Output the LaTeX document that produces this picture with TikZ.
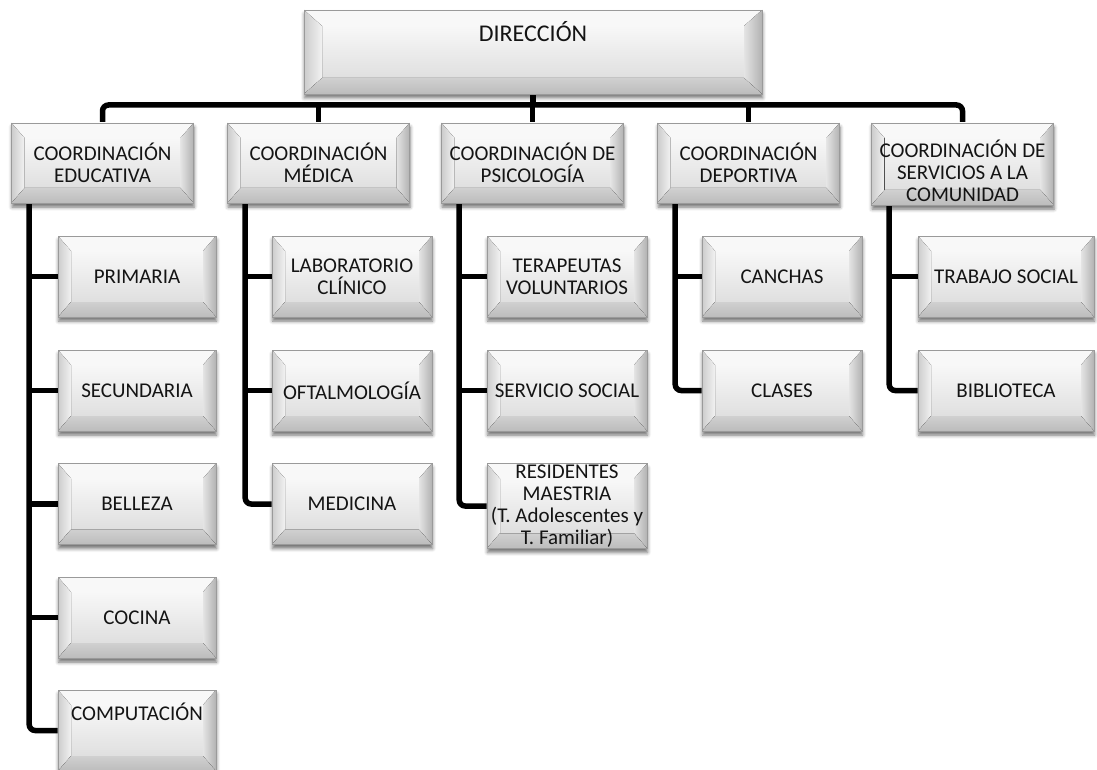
\documentclass[tikz,border=0pt]{standalone}
\usepackage{fontspec}
\setmainfont{Carlito}
\usetikzlibrary{calc,backgrounds,shadows.blur}

\newcommand\boxfont{\fontsize{21pt}{22pt}\selectfont}
\newcommand\headfont{\fontsize{24pt}{26pt}\selectfont}

\definecolor{edgegray}{HTML}{9A9A9A}
\definecolor{facebot}{HTML}{D8D8D8}
\definecolor{textdark}{HTML}{141414}
\definecolor{bvtop}{HTML}{F8F8F8}
\definecolor{bvleftout}{HTML}{CCCCCC}
\definecolor{bvleftin}{HTML}{F2F2F2}
\definecolor{bvrightin}{HTML}{E4E4E4}
\definecolor{bvrightout}{HTML}{B2B2B2}
\definecolor{bvbotin}{HTML}{D0D0D0}
\definecolor{bvbotout}{HTML}{BCBCBC}

\tikzset{
  % raised bevelled frame drawn inside a rectangular node
  bevel/.style 2 args={path picture={
    \path (path picture bounding box.north west) coordinate (bvA)
          (path picture bounding box.north east) coordinate (bvB)
          (path picture bounding box.south east) coordinate (bvC)
          (path picture bounding box.south west) coordinate (bvD);
    \coordinate (bva) at ($(bvA)+(#1,-#2)$);
    \coordinate (bvb) at ($(bvB)+(-#1,-#2)$);
    \coordinate (bvc) at ($(bvC)+(-#1,#2)$);
    \coordinate (bvd) at ($(bvD)+(#1,#2)$);
    \fill[bvtop] (bvA) -- (bvB) -- (bvb) -- (bva) -- cycle;
    \fill[left color=bvleftout, right color=bvleftin] (bvA) -- (bva) -- (bvd) -- (bvD) -- cycle;
    \fill[left color=bvrightin, right color=bvrightout] (bvB) -- (bvC) -- (bvc) -- (bvb) -- cycle;
    \fill[top color=bvbotin, bottom color=bvbotout] (bvD) -- (bvd) -- (bvc) -- (bvC) -- cycle;
  }},
  panel/.style={rectangle, draw=edgegray, line width=0.6pt,
    top color=white, bottom color=facebot,
    blur shadow={shadow xshift=0.5pt, shadow yshift=-4pt, shadow blur radius=3.5pt, shadow opacity=55},
    font=\boxfont, text=textdark, align=center, inner sep=1pt},
  topbox/.style={panel, font=\headfont, minimum width=458pt, minimum height=84pt, bevel={18pt}{16pt}},
  coordbox/.style={panel, minimum width=182pt, minimum height=80pt, bevel={13pt}{15pt}},
  childbox/.style={panel, minimum width=160pt, minimum height=81pt, bevel={13pt}{15pt}},
  conn/.style={draw=black, line width=5.5pt, rounded corners=6pt},
}

\begin{document}
\begin{tikzpicture}[x=1pt, y=-1pt]
\useasboundingbox (0,0) rectangle (1097,770);

% top
\node[topbox] (dir) at (533,52) {\raisebox{10pt}[0pt][0pt]{DIRECCIÓN}};

% coordinations
\node[coordbox] (ce) at (102.5,163) {COORDINACIÓN\\EDUCATIVA};
\node[coordbox] (cm) at (318.5,163) {COORDINACIÓN\\MÉDICA};
\node[coordbox] (cp) at (532.5,163) {COORDINACIÓN DE\\PSICOLOGÍA};
\node[coordbox] (cd) at (748.5,163) {COORDINACIÓN\\DEPORTIVA};
\node[coordbox, minimum height=82pt] (cs) at (962.5,164)
  {\raisebox{-15pt}[0pt][0pt]{\begin{tabular}{@{}c@{}}COORDINACIÓN DE\\SERVICIOS A LA\\COMUNIDAD\end{tabular}}};

% educativa
\node[childbox, minimum width=158pt] (e1) at (137,276.5) {PRIMARIA};
\node[childbox, minimum width=158pt] (e2) at (137,390.5) {SECUNDARIA};
\node[childbox, minimum width=158pt] (e3) at (137,504) {BELLEZA};
\node[childbox, minimum width=158pt] (e4) at (137,617.5) {COCINA};
\node[childbox, minimum width=158pt] (e5) at (137,730.5) {\raisebox{10pt}[0pt][0pt]{COMPUTACIÓN}};

% medica
\node[childbox] (m1) at (352,276.5) {LABORATORIO\\CLÍNICO};
\node[childbox] (m2) at (352,390.5) {OFTALMOLOGÍA};
\node[childbox] (m3) at (352,504) {MEDICINA};

% psicologia
\node[childbox] (p1) at (567,276.5) {TERAPEUTAS\\VOLUNTARIOS};
\node[childbox] (p2) at (567,390.5) {SERVICIO SOCIAL};
\node[childbox] (p3) at (567,506) {RESIDENTES\\MAESTRIA\\(T. Adolescentes y\\T. Familiar)};

% deportiva
\node[childbox] (d1) at (782,276.5) {CANCHAS};
\node[childbox] (d2) at (782,390.5) {CLASES};

% servicios a la comunidad
\node[childbox, minimum width=176pt] (s1) at (1006,276.5) {TRABAJO SOCIAL};
\node[childbox, minimum width=176pt] (s2) at (1006,390.5) {BIBLIOTECA};

\begin{pgfonlayer}{background}
  \coordinate (bus) at (533,105);
  \draw[conn] (ce.north) |- (bus) -| (cs.north);
  \draw[conn] (dir.south) -- (dir.south |- bus);
  \foreach \c in {cm,cp,cd}
    \draw[conn] (\c.north) -- (\c.north |- bus);

  % vertical spines under each coordination
  \foreach \c in {ce,cm,cp,cd,cs}
    \coordinate (\c-spine) at ($(\c.south west)+(18pt,0pt)$);

  \draw[conn] (ce-spine) |- (e5.west);
  \foreach \k in {e1,e2,e3,e4}
    \draw[conn] (\k.west) -- (\k.west -| ce-spine);

  \draw[conn] (cm-spine) |- (m3.west);
  \foreach \k in {m1,m2}
    \draw[conn] (\k.west) -- (\k.west -| cm-spine);

  \draw[conn] (cp-spine) |- (p3.west);
  \foreach \k in {p1,p2}
    \draw[conn] (\k.west) -- (\k.west -| cp-spine);

  \draw[conn] (cd-spine) |- (d2.west);
  \draw[conn] (d1.west) -- (d1.west -| cd-spine);

  \draw[conn] (cs-spine) |- (s2.west);
  \draw[conn] (s1.west) -- (s1.west -| cs-spine);
\end{pgfonlayer}
\end{tikzpicture}
\end{document}
